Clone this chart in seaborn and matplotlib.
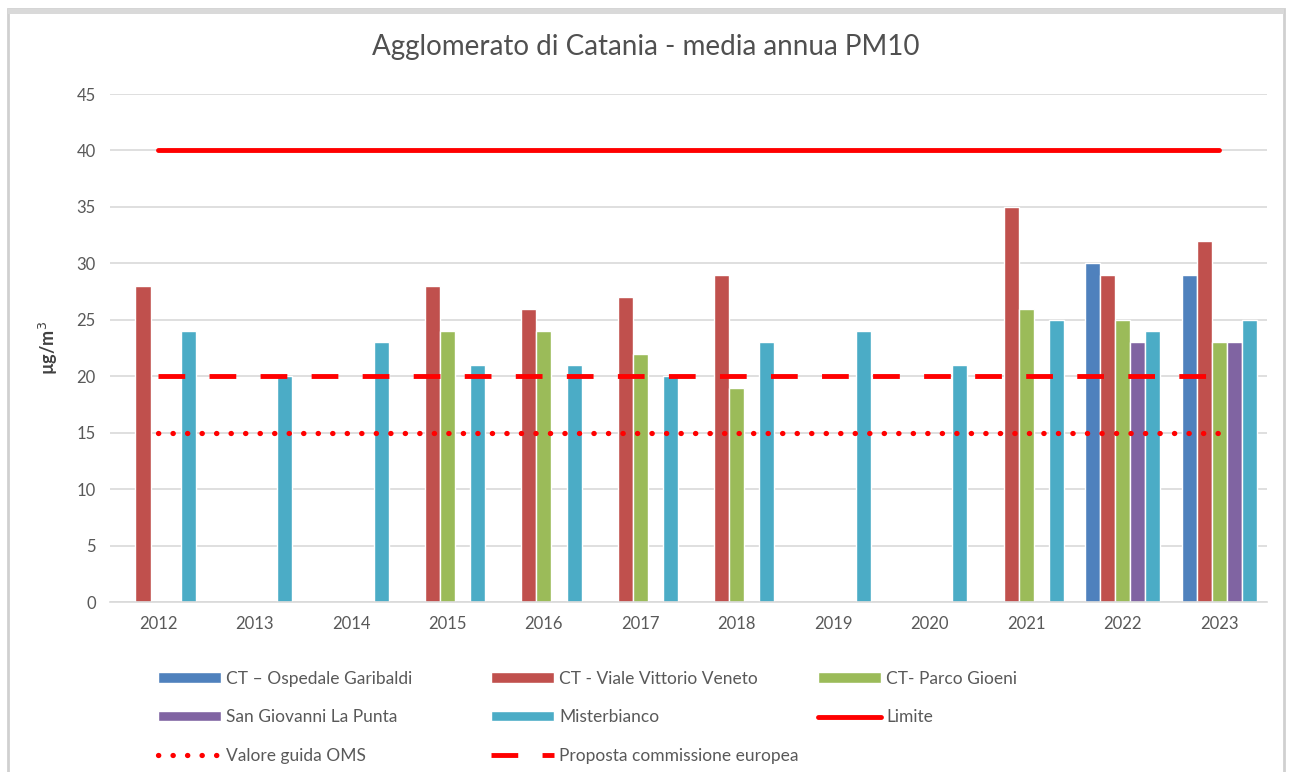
import numpy as np
import pandas as pd
import matplotlib
matplotlib.use('Agg')
import matplotlib.pyplot as plt
from matplotlib.lines import Line2D
from matplotlib.patches import Patch, Rectangle
import seaborn as sns

# Dati: media annua PM10 (µg/m³)
anni = ['2012', '2013', '2014', '2015', '2016', '2017', '2018', '2019', '2020', '2021', '2022', '2023']
stazioni = ['CT – Ospedale Garibaldi', 'CT - Viale Vittorio Veneto', 'CT- Parco Gioeni',
            'San Giovanni La Punta', 'Misterbianco']
garibaldi = [np.nan] * 10 + [30, 29]
vittorio_veneto = [28, np.nan, np.nan, 28, 26, 27, 29, np.nan, np.nan, 35, 29, 32]
parco_gioeni = [np.nan, np.nan, np.nan, 24, 24, 22, 19, np.nan, np.nan, 26, 25, 23]
san_giovanni = [np.nan] * 10 + [23, 23]
misterbianco = [24, 20, 23, 21, 21, 20, 23, 24, 21, 25, 24, 25]
limite = [40] * 12
oms = [15] * 12
proposta_ue = [20] * 12

colori = ['#4F81BD', '#C0504D', '#9BBB59', '#8064A2', '#4BACC6']

serie = [garibaldi, vittorio_veneto, parco_gioeni, san_giovanni, misterbianco]
df = pd.DataFrame({
    'Anno': anni * len(stazioni),
    'Stazione': [s for s in stazioni for _ in anni],
    'Valore': [v for vals in serie for v in vals],
})

sns.set_style('white')
plt.rcParams['font.family'] = ['Lato', 'DejaVu Sans']

ROSSO = '#FF0000'
stile_dash = dict(color=ROSSO, lw=3.5, dashes=(5.5, 5))
stile_dot = dict(color=ROSSO, lw=3.8, linestyle=(0, (0.05, 2.7)), dash_capstyle='round')
stile_lim = dict(color=ROSSO, lw=3.5, solid_capstyle='round')

fig = plt.figure(figsize=(12.92, 7.72), dpi=100)
ax = fig.add_axes([0.085, 0.2202, 0.896, 0.658])

sns.barplot(data=df, x='Anno', y='Valore', hue='Stazione', hue_order=stazioni,
            palette=colori, width=0.78, saturation=1, legend=False, ax=ax)

x = np.arange(len(anni))
ax.plot(x, limite, zorder=3, **stile_lim)
ax.plot(x, proposta_ue, zorder=3, **stile_dash)
ax.plot(x, oms, zorder=3, **stile_dot)

ax.set_ylim(0, 45)
ax.set_xlim(-0.5, len(anni) - 0.5)
ax.set_yticks(range(0, 46, 5))
ax.yaxis.grid(True, color='#D9D9D9', lw=1.2)
ax.set_axisbelow(True)
for s in ['top', 'right', 'left']:
    ax.spines[s].set_visible(False)
ax.spines['bottom'].set_color('#D9D9D9')
ax.spines['bottom'].set_linewidth(1.2)
ax.tick_params(axis='both', length=0, labelsize=12, labelcolor='#595959', pad=10)
ax.set_xlabel('')
ax.set_ylabel('µg/m$^3$', fontsize=13, color='#404040', fontweight='bold', labelpad=12)
fig.text(0.5, 1 - 47 / 772, 'Agglomerato di Catania - media annua PM10', fontsize=20,
         color='#505050', ha='center', va='center')

# Legenda: tre colonne come in Excel
h = {s: Patch(facecolor=c) for s, c in zip(stazioni, colori)}
colonne = [
    ([h[stazioni[0]], h[stazioni[3]], Line2D([], [], **stile_dot)],
     [stazioni[0], stazioni[3], 'Valore guida OMS'], 160),
    ([h[stazioni[1]], h[stazioni[4]], Line2D([], [], **stile_dash)],
     [stazioni[1], stazioni[4], 'Proposta commissione europea'], 493),
    ([h[stazioni[2]], Line2D([], [], **stile_lim)],
     [stazioni[2], 'Limite'], 820),
]
for hs, ls, xpx in colonne:
    fig.legend(hs, ls, loc='upper left', bbox_to_anchor=(xpx / 1292 - 0.008, 1 - 662 / 772),
               frameon=False, fontsize=12.5, labelcolor='#595959', handlelength=3.6,
               handleheight=0.55, handletextpad=0.3, labelspacing=1.3, borderpad=0)

# cornice esterna
fig.patches.append(Rectangle((0.006, -0.01), 0.988, 0.998, transform=fig.transFigure,
                             fill=False, edgecolor='#D0D0D0', lw=2))
fig.patches.append(Rectangle((0.006, 0.982), 0.988, 0.006, transform=fig.transFigure,
                             facecolor='#D9D9D9', edgecolor='none'))

fig.savefig('out.png', dpi=100)
